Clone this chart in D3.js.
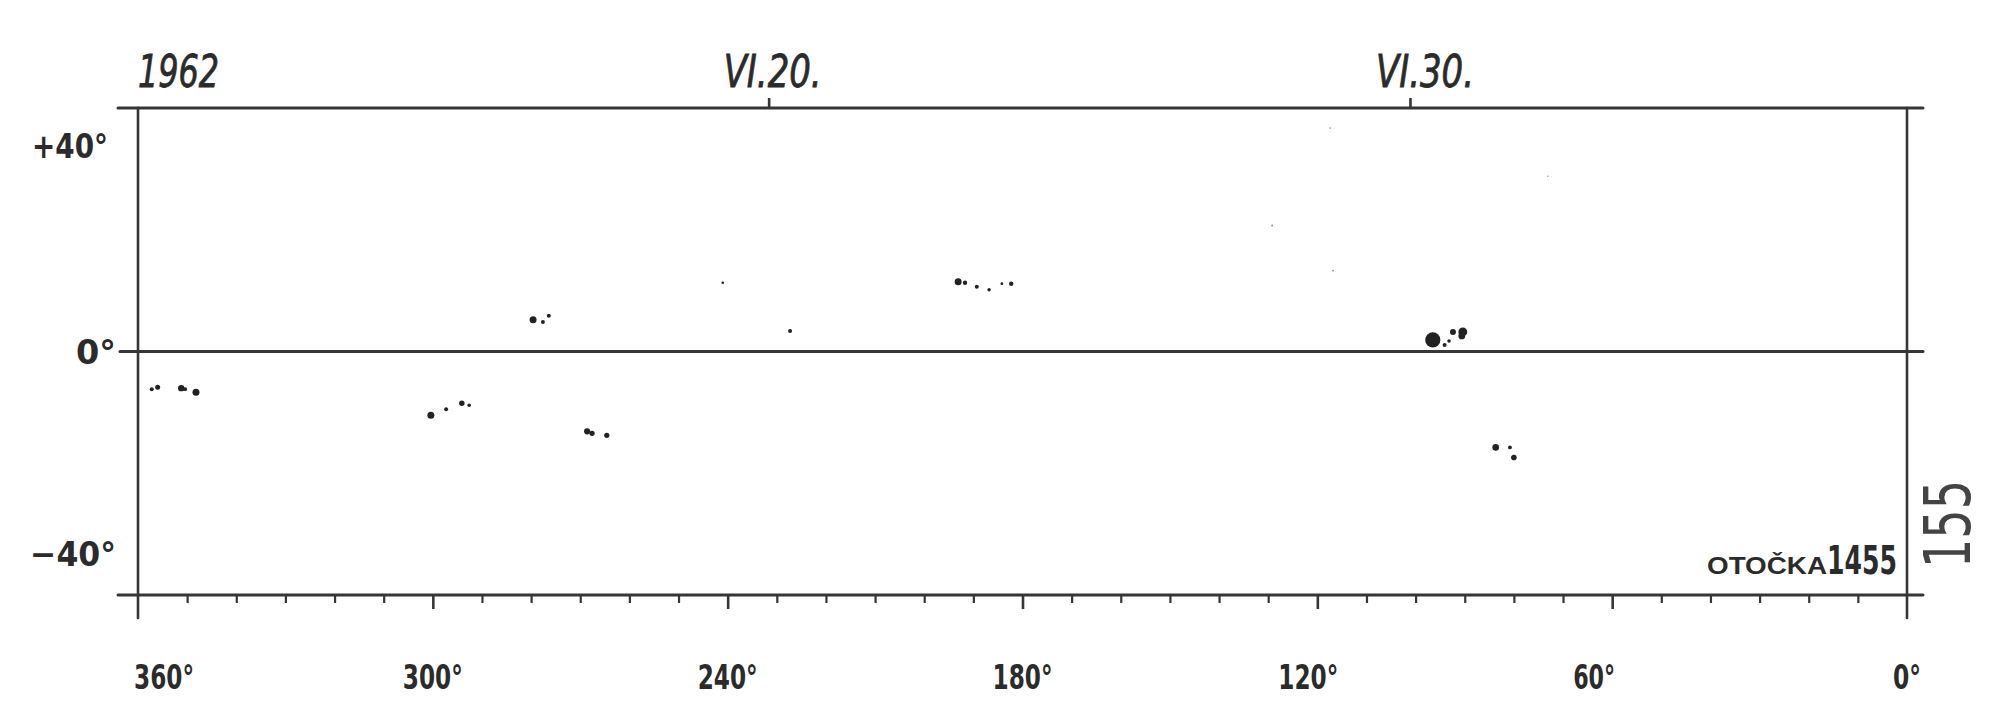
<!DOCTYPE html>
<html>
<head>
<meta charset="utf-8">
<script src="https://cdn.jsdelivr.net/npm/d3@7/dist/d3.min.js"></script>
<style>
  html, body { margin: 0; padding: 0; background: #ffffff; }
  svg { display: block; }
</style>
</head>
<body>
<div id="chart"></div>
<script>
// ---------- DATA ----------
const yearLabel = "1962";
const rotationLabel = "OTOČKA";
const rotationNumber = "1455";
const pageNumber = "155";

// Carrington rotation time span (UTC)
const rotationStart = "1962-06-10T04:00:00Z";
const rotationEnd   = "1962-07-07T18:00:00Z";
const dateTicks  = ["1962-06-20T00:00:00Z", "1962-06-30T00:00:00Z"];
const dateLabels = ["VI.20.", "VI.30."];

// Longitude axis
const lonMinorTicks = [10,20,30,40,50,70,80,90,100,110,130,140,150,160,170,190,200,210,220,230,250,260,270,280,290,310,320,330,340,350];
const lonMajorTicks = [60,120,180,240,300];
const lonLabels     = [360,300,240,180,120,60,0];

// Latitude axis
const latLabelValues = [40, 0, -40];
const latLabelText   = ["+40°", "0°", "−40°"];

// Sunspots: heliographic longitude (deg), latitude (deg), size (relative)
const spotLon  = [357.2,356.0,351.2,350.4,348.2,
                  300.4,297.3,294.1,292.6,
                  268.6,267.6,264.6,
                  279.6,277.6,276.4,
                  241.0,227.3,
                  193.1,191.7,189.3,186.8,184.2,182.3,
                  116.8,129.2,117.4,73.1,
                  96.5,94.1,93.2,92.4,90.4,90.6,
                  83.7,80.8,80.0];
const spotLat  = [-7.5,-7.1,-7.3,-7.5,-8.1,
                  -12.7,-11.5,-10.3,-10.7,
                  -15.9,-16.3,-16.7,
                  6.3,5.9,7.1,
                  13.7,4.1,
                  13.9,13.7,12.9,12.3,13.5,13.5,
                  16.1,25.1,44.5,34.9,
                  2.3,1.3,2.1,3.9,3.9,3.1,
                  -19.1,-19.1,-21.1];
const spotSize = [2.0,2.5,3.2,1.9,3.5,
                  3.5,2.0,2.7,1.8,
                  3.1,2.6,2.6,
                  3.5,2.0,2.0,
                  1.3,2.0,
                  3.5,2.2,2.0,1.7,1.4,2.2,
                  0.9,0.9,0.8,0.7,
                  7.6,2.0,1.8,3.0,4.4,3.4,
                  3.3,1.9,2.8];

// ---------- LAYOUT ----------
const W = 2000, H = 716;
const plot = {left: 138, right: 1907, top: 108, bottom: 595};
const ink = "#363636";
const textInk = "#2b2b2b";

const svg = d3.select("#chart").append("svg")
  .attr("width", W).attr("height", H);
svg.append("rect").attr("width", W).attr("height", H).attr("fill", "#fff");

const x = d3.scaleLinear().domain([360, 0]).range([plot.left, plot.right]);
const y = d3.scaleLinear().domain([-48.5, 48.5]).range([plot.bottom, plot.top]);
const t = d3.scaleUtc().domain([new Date(rotationStart), new Date(rotationEnd)])
  .range([plot.left, plot.right]);

const narrow = "'Liberation Sans Narrow', 'DejaVu Sans Condensed', 'Liberation Sans', sans-serif";

// ---------- FRAME ----------
const frame = svg.append("g").attr("stroke", ink).attr("stroke-linecap", "round").attr("fill", "none");
frame.append("line").attr("x1", x(360) - 20).attr("x2", x(0) + 16)
  .attr("y1", y(48.5)).attr("y2", y(48.5)).attr("stroke-width", 3);
frame.append("line").attr("x1", x(360) - 20).attr("x2", x(0) + 16)
  .attr("y1", y(-48.5)).attr("y2", y(-48.5)).attr("stroke-width", 3);
frame.append("line").attr("x1", x(360) - 18).attr("x2", x(0) + 16)
  .attr("y1", y(0)).attr("y2", y(0)).attr("stroke-width", 3);
frame.append("line").attr("x1", x(360)).attr("x2", x(360))
  .attr("y1", y(48.5)).attr("y2", y(-48.5) + 23).attr("stroke-width", 2.6);
frame.append("line").attr("x1", x(0)).attr("x2", x(0))
  .attr("y1", y(48.5)).attr("y2", y(-48.5) + 23).attr("stroke-width", 2.6);

// ---------- BOTTOM AXIS (longitude) ----------
const minorAxis = d3.axisBottom(x).tickValues(lonMinorTicks).tickSize(8).tickFormat("");
const gMinor = svg.append("g").attr("transform", `translate(0,${y(-48.5)})`).call(minorAxis);
gMinor.select(".domain").remove();
gMinor.selectAll(".tick line").attr("stroke", ink).attr("stroke-width", 2.2);

const majorAxis = d3.axisBottom(x).tickValues(lonMajorTicks).tickSize(14).tickFormat("");
const gMajor = svg.append("g").attr("transform", `translate(0,${y(-48.5)})`).call(majorAxis);
gMajor.select(".domain").remove();
gMajor.selectAll(".tick line").attr("stroke", ink).attr("stroke-width", 2.6);

const lonLabelDx = {360: 26, 120: -9, 60: -18};
svg.append("g").selectAll("text").data(lonLabels).join("text")
  .attr("x", d => x(d) + (lonLabelDx[d] || 0))
  .attr("y", 689)
  .attr("text-anchor", "middle")
  .attr("font-family", narrow)
  .attr("font-weight", "bold")
  .attr("font-size", 33)
  .attr("fill", textInk)
  .attr("textLength", d => d === 0 ? 28 : (d === 60 ? 42 : 60))
  .attr("lengthAdjust", "spacingAndGlyphs")
  .text(d => d + "°");

// ---------- LEFT LABELS (latitude) ----------
const latLabelDy = [7, 12, 14];
const latLabelX  = [108, 116, 116];
svg.append("g").selectAll("text").data(latLabelValues).join("text")
  .attr("x", (d, i) => latLabelX[i])
  .attr("y", (d, i) => y(d) + latLabelDy[i])
  .attr("text-anchor", "end")
  .attr("font-family", narrow)
  .attr("font-weight", "bold")
  .attr("font-size", 34)
  .attr("fill", textInk)
  .attr("textLength", (d, i) => i === 1 ? 40 : (i === 0 ? 76 : 86))
  .attr("lengthAdjust", "spacingAndGlyphs")
  .text((d, i) => latLabelText[i]);

// ---------- TOP AXIS (dates) ----------
const dateAxis = d3.axisTop(t).tickValues(dateTicks.map(d => new Date(d))).tickSize(10).tickFormat("");
const gDate = svg.append("g").attr("transform", `translate(0,${y(48.5)})`).call(dateAxis);
gDate.select(".domain").remove();
gDate.selectAll(".tick line").attr("stroke", ink).attr("stroke-width", 2.6);

const dateLabelDx = [4, 15];
svg.append("g").selectAll("text").data(dateTicks).join("text")
  .attr("x", (d, i) => t(new Date(d)) + dateLabelDx[i])
  .attr("y", 87)
  .attr("text-anchor", "middle")
  .attr("font-family", narrow)
  .attr("font-style", "italic")
  .attr("font-size", 44)
  .attr("fill", textInk)
  .attr("stroke", textInk).attr("stroke-width", 0.8)
  .attr("textLength", 98)
  .attr("lengthAdjust", "spacingAndGlyphs")
  .text((d, i) => dateLabels[i]);

svg.append("text")
  .attr("x", x(360)).attr("y", 87)
  .attr("font-family", narrow)
  .attr("font-style", "italic")
  .attr("font-size", 44)
  .attr("fill", textInk)
  .attr("stroke", textInk).attr("stroke-width", 0.8)
  .attr("textLength", 81)
  .attr("lengthAdjust", "spacingAndGlyphs")
  .text(yearLabel);

// ---------- ROTATION LABEL ----------
svg.append("text")
  .attr("x", 1707).attr("y", 574)
  .attr("font-family", "'Liberation Sans', sans-serif")
  .attr("font-weight", "bold")
  .attr("font-size", 23)
  .attr("fill", textInk)
  .attr("textLength", 120)
  .attr("lengthAdjust", "spacingAndGlyphs")
  .text(rotationLabel);
svg.append("text")
  .attr("x", 1827).attr("y", 574)
  .attr("font-family", narrow)
  .attr("font-weight", "bold")
  .attr("font-size", 39)
  .attr("fill", textInk)
  .attr("textLength", 70)
  .attr("lengthAdjust", "spacingAndGlyphs")
  .text(rotationNumber);

// page number, rotated
svg.append("text")
  .attr("transform", "translate(1970,568) rotate(-90)")
  .attr("font-family", narrow)
  .attr("font-size", 64)
  .attr("fill", "#444")
  .attr("textLength", 88)
  .attr("lengthAdjust", "spacingAndGlyphs")
  .text(pageNumber);

// ---------- SUNSPOTS ----------
const spots = spotLon.map((lon, i) => ({lon, lat: spotLat[i], r: spotSize[i]}));
svg.append("g").selectAll("circle").data(spots).join("circle")
  .attr("cx", d => x(d.lon))
  .attr("cy", d => y(d.lat))
  .attr("r", d => d.r)
  .attr("fill", d => d.r < 1 ? "#888" : "#222");
</script>
</body>
</html>
